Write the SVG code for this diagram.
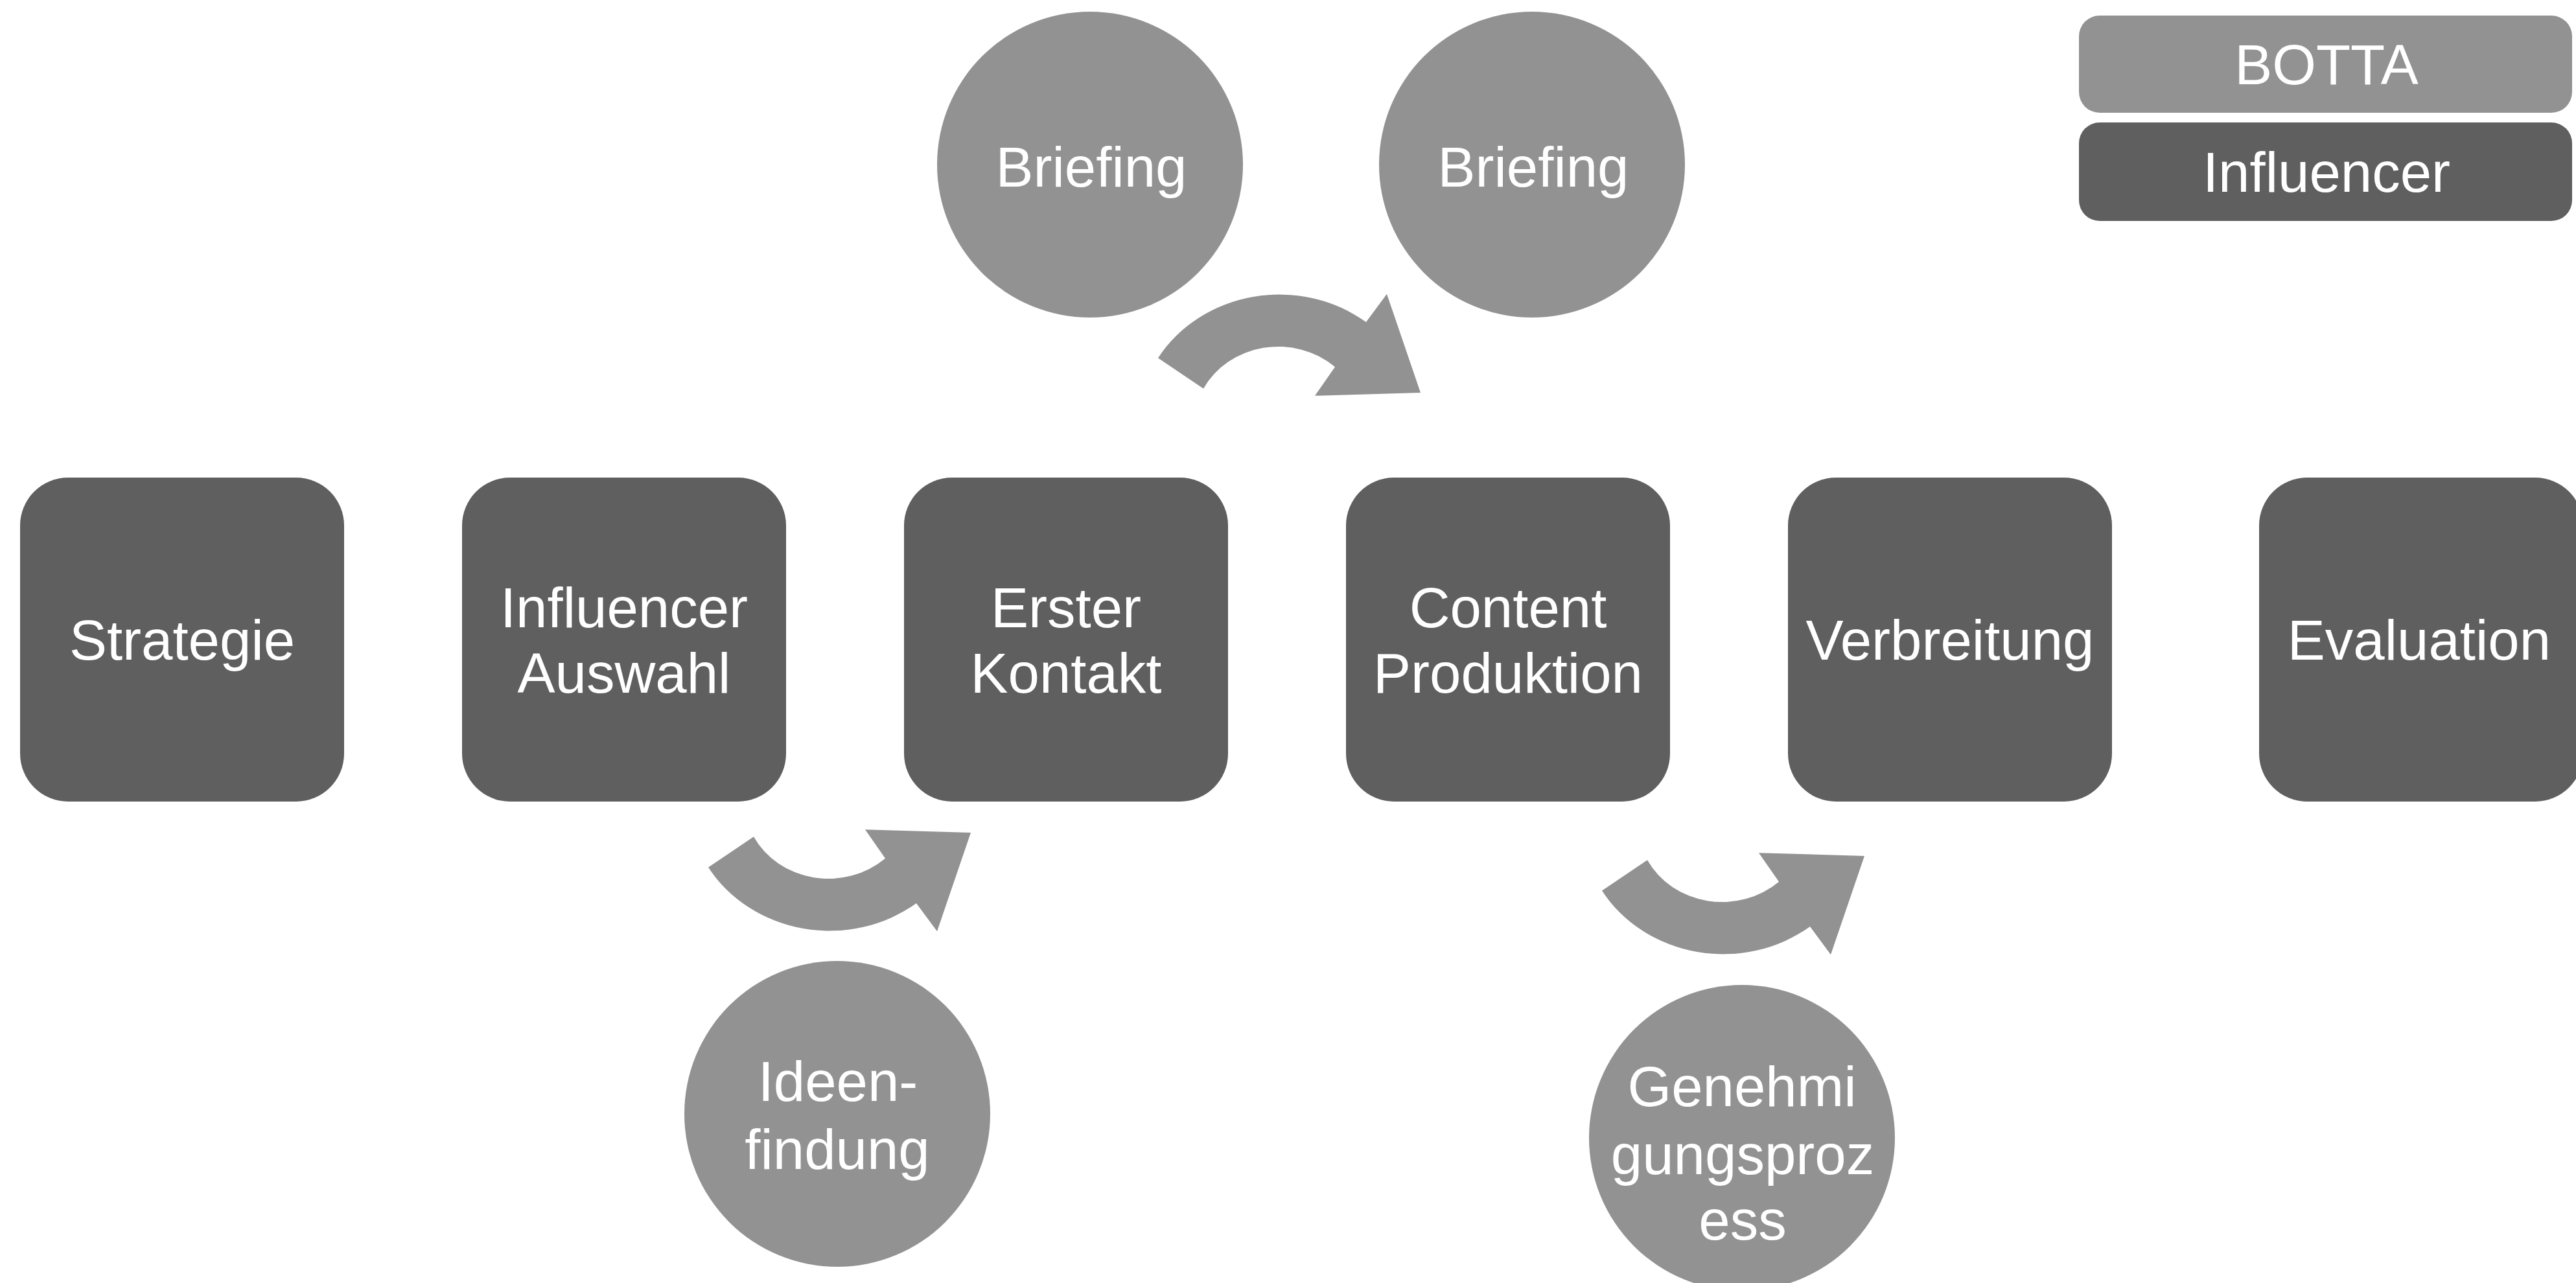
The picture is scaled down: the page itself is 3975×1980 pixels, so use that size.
<svg xmlns="http://www.w3.org/2000/svg" width="3975" height="1980" viewBox="0 0 3975 1980">
<style>
.box{fill:#5f5f5f}
.circ{fill:#929292}
.arrow{fill:#929292}
.lbl{font-family:"Liberation Sans",Arial,Helvetica,sans-serif;font-size:87px;fill:#ffffff;text-anchor:middle}
</style>
<defs>
<path id="curved-arrow" d="M -187,-112 A 218 218 0 0 1 134,-172 L 166,-219 L 218,-54 L 55,-49 L 86,-97 A 130 130 0 0 0 -117,-61 Z"/>
</defs>
<rect width="3975" height="1980" fill="#ffffff"/>
<g id="connectors" class="arrow">
<use href="#curved-arrow" transform="translate(1974,656) scale(1,0.924)"/>
<use href="#curved-arrow" transform="translate(1280,1235) scale(1,-0.924)"/>
<use href="#curved-arrow" transform="translate(2659,1271) scale(1,-0.924)"/>
</g>
<g id="strategie"><rect class="box" x="31" y="737" width="500" height="500" rx="74"/><text class="lbl" x="281" y="1018">Strategie</text></g>
<g id="influencer-auswahl"><rect class="box" x="713" y="737" width="500" height="500" rx="74"/><text class="lbl" x="963" y="968">Influencer</text><text class="lbl" x="963" y="1069">Auswahl</text></g>
<g id="erster-kontakt"><rect class="box" x="1395" y="737" width="500" height="500" rx="74"/><text class="lbl" x="1645" y="968">Erster</text><text class="lbl" x="1645" y="1069">Kontakt</text></g>
<g id="content-produktion"><rect class="box" x="2077" y="737" width="500" height="500" rx="74"/><text class="lbl" x="2327" y="968">Content</text><text class="lbl" x="2327" y="1069">Produktion</text></g>
<g id="verbreitung"><rect class="box" x="2759" y="737" width="500" height="500" rx="74"/><text class="lbl" x="3009" y="1018">Verbreitung</text></g>
<g id="evaluation"><rect class="box" x="3486" y="737" width="500" height="500" rx="74"/><text class="lbl" x="3733" y="1018">Evaluation</text></g>
<g id="briefing-1"><circle class="circ" cx="1682" cy="254" r="236"/><text class="lbl" x="1684" y="288">Briefing</text></g>
<g id="briefing-2"><circle class="circ" cx="2364" cy="254" r="236"/><text class="lbl" x="2366" y="288">Briefing</text></g>
<g id="ideenfindung"><circle class="circ" cx="1292" cy="1719" r="236"/><text class="lbl" x="1293" y="1699">Ideen-</text><text class="lbl" x="1292" y="1804">findung</text></g>
<g id="genehmigungsprozess"><circle class="circ" cx="2688" cy="1756" r="236"/><text class="lbl" x="2688" y="1707">Genehmi</text><text class="lbl" x="2689" y="1812">gungsproz</text><text class="lbl" x="2689" y="1913">ess</text></g>
<g id="legend-botta"><rect class="circ" x="3208" y="24" width="761" height="150" rx="32"/><text class="lbl" x="3590" y="130">BOTTA</text></g>
<g id="legend-influencer"><rect class="box" x="3208" y="189" width="761" height="152" rx="32"/><text class="lbl" x="3590" y="296">Influencer</text></g>
</svg>
